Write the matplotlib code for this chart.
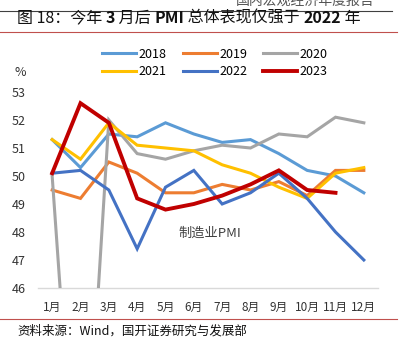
import matplotlib
matplotlib.use("Agg")
import matplotlib.pyplot as plt
from matplotlib.lines import Line2D

plt.rcParams['font.family'] = ['Noto Sans CJK SC', 'DejaVu Sans']

months = ["1月", "2月", "3月", "4月", "5月", "6月", "7月", "8月", "9月", "10月", "11月", "12月"]
s2018 = [51.3, 50.3, 51.5, 51.4, 51.9, 51.5, 51.2, 51.3, 50.8, 50.2, 50.0, 49.4]
s2019 = [49.5, 49.2, 50.5, 50.1, 49.4, 49.4, 49.7, 49.5, 49.8, 49.3, 50.2, 50.2]
s2020 = [50.0, 35.7, 52.0, 50.8, 50.6, 50.9, 51.1, 51.0, 51.5, 51.4, 52.1, 51.9]
s2021 = [51.3, 50.6, 51.9, 51.1, 51.0, 50.9, 50.4, 50.1, 49.6, 49.2, 50.1, 50.3]
s2022 = [50.1, 50.2, 49.5, 47.4, 49.6, 50.2, 49.0, 49.4, 50.1, 49.2, 48.0, 47.0]
s2023 = [50.1, 52.6, 51.9, 49.2, 48.8, 49.0, 49.3, 49.7, 50.2, 49.5, 49.4]
yticks = [46, 47, 48, 49, 50, 51, 52, 53]

W, H = 405, 351
fig = plt.figure(figsize=(W / 100, H / 100), dpi=100)

def fx(px):
    return px / W

def fy(py):
    return 1 - py / H

ax = fig.add_axes([fx(38), fy(288), fx(378) - fx(38), fy(92) - fy(288)])

series = [
    ("2018", s2018, "#5B9BD5", 2.2),
    ("2019", s2019, "#ED7D31", 2.2),
    ("2020", s2020, "#A5A5A5", 2.2),
    ("2021", s2021, "#FFC000", 2.2),
    ("2022", s2022, "#4472C4", 2.2),
    ("2023", s2023, "#C00000", 2.8),
]
handles = {}
for name, vals, col, lw in series:
    ln, = ax.plot(range(len(vals)), vals, color=col, lw=lw, label=name,
                  solid_joinstyle='miter', zorder=3 if name == "2023" else 2)
    handles[name] = ln

ax.set_xlim(-0.5, 11.5)
ax.set_ylim(46, 53)
ax.set_yticks(yticks)
ax.set_yticklabels([str(t) for t in yticks], fontsize=9, color="#333333")
ax.set_xticks(range(12))
ax.set_xticklabels(months, fontsize=8.5, color="#333333")
ax.tick_params(length=0)
ax.tick_params(axis='y', pad=9)
ax.tick_params(axis='x', pad=9)
for sp in ["top", "right", "left"]:
    ax.spines[sp].set_visible(False)
ax.spines["bottom"].set_color("#D9D9D9")
ax.spines["bottom"].set_linewidth(1.0)
ax.spines["bottom"].set_zorder(1)

order = ["2018", "2021", "2019", "2022", "2020", "2023"]
fig.legend([handles[k] for k in order], order, ncol=3, loc="center",
           bbox_to_anchor=(fx(215), fy(63)), frameon=False, fontsize=9,
           handlelength=2.7, handletextpad=0.2, columnspacing=1.3,
           labelspacing=0.35)

fig.text(fx(20), fy(73), "%", fontsize=9, ha="center", va="center", color="#333333")
ax.text(4.45, 47.95, "制造业PMI", fontsize=9.5, color="#404040", ha="left", va="center")

# Header (cut off at the top edge, as in the source)
fig.text(fx(375), fy(1), "国内宏观经济年度报告", fontsize=10, ha="right", va="center", color="#555555")
fig.add_artist(Line2D([0, fx(392)], [fy(11), fy(11)], color="#404040", lw=0.8))
fig.add_artist(Line2D([0, fx(397)], [fy(32), fy(32)], color="#C0504D", lw=0.8))
fig.add_artist(Line2D([0, fx(397)], [fy(319), fy(319)], color="#C0504D", lw=0.8))

# Title with mixed weights
parts = [("图 18：今年 ", "normal"), ("3", "bold"), (" 月后 ", "normal"), ("PMI", "bold"),
         (" 总体表现仅强于 ", "normal"), ("2022", "bold"), (" 年", "normal")]
fig.canvas.draw()
renderer = fig.canvas.get_renderer()
x = fx(17)
for txt, wt in parts:
    t = fig.text(x, fy(18), txt, fontsize=11.5, fontweight=wt, ha="left", va="center", color="#111111")
    bb = t.get_window_extent(renderer=renderer)
    x += bb.width / W

fig.text(fx(17), fy(331), "资料来源：Wind，国开证券研究与发展部", fontsize=9, ha="left", va="center", color="#111111")

fig.savefig("out.png", dpi=100)
